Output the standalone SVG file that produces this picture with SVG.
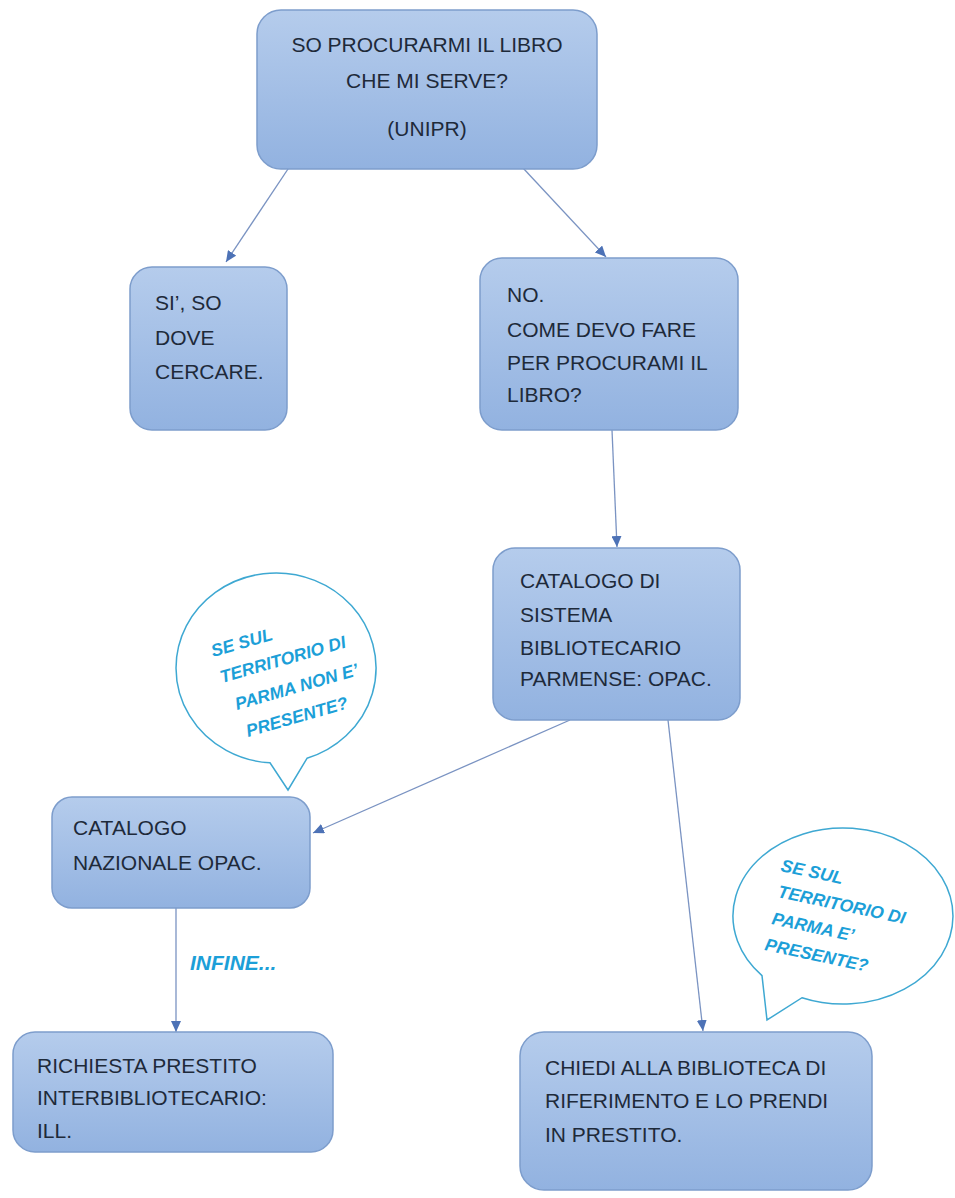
<svg xmlns="http://www.w3.org/2000/svg" width="955" height="1198" viewBox="0 0 955 1198">
<defs>
<linearGradient id="boxfill" x1="0" y1="0" x2="0" y2="1">
<stop offset="0" stop-color="#b5ccec"/>
<stop offset="1" stop-color="#92b2e0"/>
</linearGradient>
<marker id="arr" markerUnits="userSpaceOnUse" markerWidth="12" markerHeight="10" refX="11" refY="5" orient="auto">
<path d="M0,0 L11,5 L0,10 Z" fill="#4d72b6"/>
</marker>
</defs>
<style>
.box{fill:url(#boxfill);stroke:#7d9dcc;stroke-width:1.5}
.t{font-family:"Liberation Sans",Arial,sans-serif;font-size:21px;fill:#1e2a3a}
.c{stroke:#7a93c2;stroke-width:1.3;fill:none;marker-end:url(#arr)}
.bub{fill:#ffffff;stroke:#3ea8d2;stroke-width:1.5}
.bt{font-family:"Liberation Sans",Arial,sans-serif;font-size:17.5px;font-weight:bold;font-style:italic;fill:#1c9fd8}
.lab{font-family:"Liberation Sans",Arial,sans-serif;font-size:21px;font-weight:bold;font-style:italic;fill:#1c9fd8}
</style>
<rect width="955" height="1198" fill="#ffffff"/>

<g id="connectors">
<line class="c" x1="296" y1="157" x2="226" y2="262"/>
<line class="c" x1="523" y1="168" x2="606" y2="257"/>
<line class="c" x1="612" y1="430" x2="617" y2="547"/>
<line class="c" x1="570" y1="720" x2="313" y2="833"/>
<line class="c" x1="668" y1="720" x2="703" y2="1031"/>
<line class="c" x1="176" y1="908" x2="176" y2="1032"/>
<text class="lab" x="190" y="970">INFINE...</text>
</g>

<g id="n-top">
<rect class="box" x="257" y="10" width="340" height="159" rx="24"/>
<text class="t" x="427" y="52" text-anchor="middle">SO PROCURARMI IL LIBRO</text>
<text class="t" x="427" y="88" text-anchor="middle">CHE MI SERVE?</text>
<text class="t" x="427" y="136" text-anchor="middle">(UNIPR)</text>
</g>

<g id="n-si">
<rect class="box" x="130" y="267" width="157" height="163" rx="22"/>
<text class="t" x="155" y="310">SI’, SO</text>
<text class="t" x="155" y="345">DOVE</text>
<text class="t" x="155" y="379">CERCARE.</text>
</g>

<g id="n-no">
<rect class="box" x="480" y="258" width="258" height="172" rx="22"/>
<text class="t" x="507" y="302">NO.</text>
<text class="t" x="507" y="337">COME DEVO FARE</text>
<text class="t" x="507" y="370">PER PROCURAMI IL</text>
<text class="t" x="507" y="402">LIBRO?</text>
</g>

<g id="n-sbp">
<rect class="box" x="493" y="548" width="247" height="172" rx="22"/>
<text class="t" x="520" y="588">CATALOGO DI</text>
<text class="t" x="520" y="622">SISTEMA</text>
<text class="t" x="520" y="655">BIBLIOTECARIO</text>
<text class="t" x="520" y="686">PARMENSE: OPAC.</text>
</g>

<g id="n-naz">
<rect class="box" x="52" y="797" width="258" height="111" rx="20"/>
<text class="t" x="73" y="835">CATALOGO</text>
<text class="t" x="73" y="870">NAZIONALE OPAC.</text>
</g>

<g id="n-ill">
<rect class="box" x="13" y="1032" width="320" height="120" rx="22"/>
<text class="t" x="37" y="1073">RICHIESTA PRESTITO</text>
<text class="t" x="37" y="1105">INTERBIBLIOTECARIO:</text>
<text class="t" x="37" y="1138">ILL.</text>
</g>

<g id="n-chiedi">
<rect class="box" x="520" y="1032" width="352" height="158" rx="24"/>
<text class="t" x="545" y="1075">CHIEDI ALLA BIBLIOTECA DI</text>
<text class="t" x="545" y="1108">RIFERIMENTO E LO PRENDI</text>
<text class="t" x="545" y="1142">IN PRESTITO.</text>
</g>

<g id="bubble-non">
<path class="bub" d="M270,762.8 A100 95 0 1 1 307,758.3 L288,790 Z"/>
<text class="bt" transform="translate(213,657) rotate(-16)">SE SUL</text>
<text class="bt" transform="translate(222,683) rotate(-16)">TERRITORIO DI</text>
<text class="bt" transform="translate(237,710) rotate(-16)">PARMA NON E’</text>
<text class="bt" transform="translate(248,737) rotate(-16)">PRESENTE?</text>
</g>

<g id="bubble-si">
<path class="bub" d="M762,975.6 A110 88 0 1 1 802,997.7 L767,1020 Z"/>
<text class="bt" transform="translate(780,871) rotate(12)">SE SUL</text>
<text class="bt" transform="translate(777,897) rotate(12)">TERRITORIO DI</text>
<text class="bt" transform="translate(771,924) rotate(12)">PARMA E’</text>
<text class="bt" transform="translate(764,950) rotate(12)">PRESENTE?</text>
</g>
</svg>
